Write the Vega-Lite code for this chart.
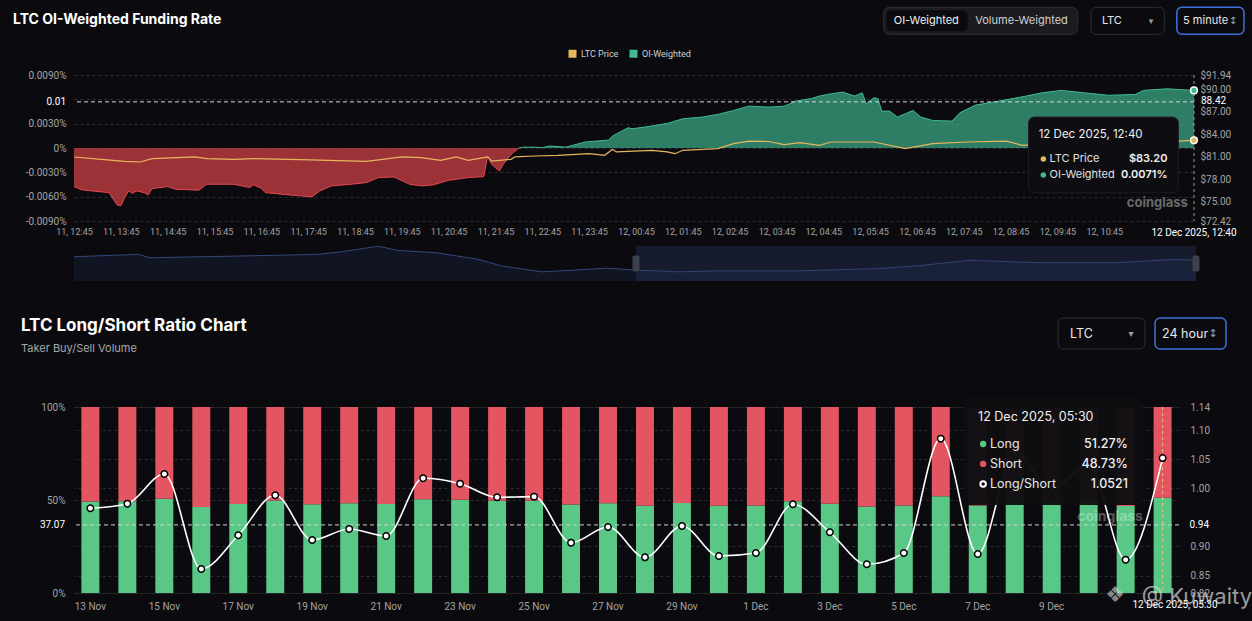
{
"$schema": "https://vega.github.io/schema/vega-lite/v6.json",
"background": "#0b0b0f",
"padding": {"left": 13, "top": 6, "right": 0, "bottom": 12},
"datasets": {
"funding": [
{"t":"2025-12-11T12:45","fr":-0.00476},{"t":"2025-12-11T12:55","fr":-0.00516},{"t":"2025-12-11T13:20","fr":-0.00541},{"t":"2025-12-11T13:30","fr":-0.0055},{"t":"2025-12-11T13:35","fr":-0.00627},{"t":"2025-12-11T13:40","fr":-0.0070},{"t":"2025-12-11T13:45","fr":-0.00713},{"t":"2025-12-11T13:50","fr":-0.0061},{"t":"2025-12-11T13:55","fr":-0.00529},{"t":"2025-12-11T14:00","fr":-0.0056},{"t":"2025-12-11T14:05","fr":-0.0053},{"t":"2025-12-11T14:15","fr":-0.0055},{"t":"2025-12-11T14:20","fr":-0.00578},{"t":"2025-12-11T14:25","fr":-0.005},{"t":"2025-12-11T14:45","fr":-0.00476},{"t":"2025-12-11T14:55","fr":-0.00508},{"t":"2025-12-11T15:25","fr":-0.0052},{"t":"2025-12-11T15:35","fr":-0.00447},{"t":"2025-12-11T16:10","fr":-0.00447},{"t":"2025-12-11T16:30","fr":-0.00488},{"t":"2025-12-11T16:35","fr":-0.00455},{"t":"2025-12-11T16:45","fr":-0.00495},{"t":"2025-12-11T16:50","fr":-0.0055},{"t":"2025-12-11T17:20","fr":-0.00578},{"t":"2025-12-11T17:35","fr":-0.0059},{"t":"2025-12-11T17:50","fr":-0.00602},{"t":"2025-12-11T18:00","fr":-0.00529},{"t":"2025-12-11T18:15","fr":-0.00467},{"t":"2025-12-11T18:40","fr":-0.00447},{"t":"2025-12-11T19:00","fr":-0.00426},{"t":"2025-12-11T19:15","fr":-0.00365},{"t":"2025-12-11T19:35","fr":-0.00357},{"t":"2025-12-11T19:55","fr":-0.00447},{"t":"2025-12-11T20:10","fr":-0.00467},{"t":"2025-12-11T20:25","fr":-0.00455},{"t":"2025-12-11T20:45","fr":-0.00398},{"t":"2025-12-11T21:10","fr":-0.00365},{"t":"2025-12-11T21:30","fr":-0.00353},{"t":"2025-12-11T21:35","fr":-0.0010},{"t":"2025-12-11T21:40","fr":-0.002},{"t":"2025-12-11T21:50","fr":-0.00283},{"t":"2025-12-11T21:55","fr":-0.002},{"t":"2025-12-11T22:05","fr":-0.00078},{"t":"2025-12-11T22:15","fr":0},{"t":"2025-12-11T22:20","fr":0.0001},{"t":"2025-12-11T22:35","fr":0.0001},{"t":"2025-12-11T22:45","fr":0.00003},{"t":"2025-12-11T22:55","fr":0.00025},{"t":"2025-12-11T23:15","fr":0.0001},{"t":"2025-12-11T23:40","fr":0.00074},{"t":"2025-12-12T00:10","fr":0.00098},{"t":"2025-12-12T00:15","fr":0.00148},{"t":"2025-12-12T00:35","fr":0.0025},{"t":"2025-12-12T00:40","fr":0.00237},{"t":"2025-12-12T01:05","fr":0.0027},{"t":"2025-12-12T01:25","fr":0.00303},{"t":"2025-12-12T01:45","fr":0.0036},{"t":"2025-12-12T02:10","fr":0.00381},{"t":"2025-12-12T02:30","fr":0.00414},{"t":"2025-12-12T02:50","fr":0.00463},{"t":"2025-12-12T03:10","fr":0.00516},{"t":"2025-12-12T03:35","fr":0.00504},{"t":"2025-12-12T03:55","fr":0.00516},{"t":"2025-12-12T04:10","fr":0.00578},{"t":"2025-12-12T04:30","fr":0.0061},{"t":"2025-12-12T04:40","fr":0.0064},{"t":"2025-12-12T04:50","fr":0.0066},{"t":"2025-12-12T05:10","fr":0.00689},{"t":"2025-12-12T05:25","fr":0.0064},{"t":"2025-12-12T05:35","fr":0.0068},{"t":"2025-12-12T05:40","fr":0.00545},{"t":"2025-12-12T05:50","fr":0.0062},{"t":"2025-12-12T05:55","fr":0.0061},{"t":"2025-12-12T06:00","fr":0.00455},{"t":"2025-12-12T06:10","fr":0.00455},{"t":"2025-12-12T06:20","fr":0.00381},{"t":"2025-12-12T06:30","fr":0.00422},{"t":"2025-12-12T06:40","fr":0.00463},{"t":"2025-12-12T06:50","fr":0.00381},{"t":"2025-12-12T07:05","fr":0.0034},{"t":"2025-12-12T07:30","fr":0.00332},{"t":"2025-12-12T07:40","fr":0.00434},{"t":"2025-12-12T08:00","fr":0.00529},{"t":"2025-12-12T08:30","fr":0.00578},{"t":"2025-12-12T09:05","fr":0.0064},{"t":"2025-12-12T09:25","fr":0.0068},{"t":"2025-12-12T09:50","fr":0.0071},{"t":"2025-12-12T10:20","fr":0.0068},{"t":"2025-12-12T10:50","fr":0.0065},{"t":"2025-12-12T11:25","fr":0.0066},{"t":"2025-12-12T11:35","fr":0.0071},{"t":"2025-12-12T12:05","fr":0.0073},{"t":"2025-12-12T12:40","fr":0.0071}
],
"price": [
{"t":"2025-12-11T12:45","p":80.98},{"t":"2025-12-11T13:20","p":80.67},{"t":"2025-12-11T13:50","p":80.4},{"t":"2025-12-11T14:10","p":80.31},{"t":"2025-12-11T14:25","p":80.75},{"t":"2025-12-11T15:20","p":81.0},{"t":"2025-12-11T15:35","p":80.75},{"t":"2025-12-11T16:10","p":80.67},{"t":"2025-12-11T16:35","p":80.75},{"t":"2025-12-11T17:35","p":80.62},{"t":"2025-12-11T19:00","p":80.4},{"t":"2025-12-11T19:45","p":81.0},{"t":"2025-12-11T20:10","p":80.9},{"t":"2025-12-11T20:35","p":80.54},{"t":"2025-12-11T20:55","p":81.0},{"t":"2025-12-11T21:10","p":80.54},{"t":"2025-12-11T21:35","p":81.0},{"t":"2025-12-11T21:40","p":80.44},{"t":"2025-12-11T22:05","p":80.67},{"t":"2025-12-11T22:10","p":81.0},{"t":"2025-12-11T22:35","p":81.11},{"t":"2025-12-11T23:05","p":81.2},{"t":"2025-12-11T23:45","p":81.42},{"t":"2025-12-12T00:05","p":81.2},{"t":"2025-12-12T00:15","p":82.01},{"t":"2025-12-12T00:20","p":81.65},{"t":"2025-12-12T01:05","p":81.87},{"t":"2025-12-12T01:25","p":81.65},{"t":"2025-12-12T01:35","p":81.42},{"t":"2025-12-12T01:45","p":81.87},{"t":"2025-12-12T02:10","p":82.0},{"t":"2025-12-12T02:30","p":82.09},{"t":"2025-12-12T02:50","p":82.76},{"t":"2025-12-12T03:10","p":83.1},{"t":"2025-12-12T03:35","p":83.05},{"t":"2025-12-12T03:55","p":82.62},{"t":"2025-12-12T04:15","p":82.89},{"t":"2025-12-12T04:40","p":82.54},{"t":"2025-12-12T04:55","p":82.98},{"t":"2025-12-12T05:50","p":82.98},{"t":"2025-12-12T06:30","p":82.09},{"t":"2025-12-12T07:05","p":82.76},{"t":"2025-12-12T07:50","p":82.98},{"t":"2025-12-12T08:40","p":83.1},{"t":"2025-12-12T09:00","p":82.54},{"t":"2025-12-12T09:50","p":82.8},{"t":"2025-12-12T11:05","p":82.9},{"t":"2025-12-12T12:20","p":83.1},{"t":"2025-12-12T12:40","p":83.2}
],
"nav": [
{"t":"2025-12-10T12:45","p":83.72},{"t":"2025-12-10T15:30","p":84.2},{"t":"2025-12-10T16:00","p":83.52},{"t":"2025-12-10T19:45","p":83.86},{"t":"2025-12-10T23:10","p":84.2},{"t":"2025-12-11T00:10","p":84.72},{"t":"2025-12-11T01:45","p":85.86},{"t":"2025-12-11T02:35","p":85.0},{"t":"2025-12-11T04:15","p":84.52},{"t":"2025-12-11T06:00","p":83.2},{"t":"2025-12-11T07:00","p":81.86},{"t":"2025-12-11T08:45","p":80.66},{"t":"2025-12-11T10:05","p":81.0},{"t":"2025-12-11T11:30","p":81.4},{"t":"2025-12-11T12:50","p":81.0},{"t":"2025-12-11T14:35","p":80.66},{"t":"2025-12-11T16:15","p":80.86},{"t":"2025-12-11T19:40","p":80.86},{"t":"2025-12-11T23:05","p":81.32},{"t":"2025-12-12T00:45","p":81.86},{"t":"2025-12-12T03:00","p":83.0},{"t":"2025-12-12T05:55","p":82.52},{"t":"2025-12-12T09:20","p":82.52},{"t":"2025-12-12T11:45","p":83.2},{"t":"2025-12-12T12:40","p":83.0}
],
"ls": [
{"d":"13 Nov","long":49.13,"ratio":0.9658},{"d":"14 Nov","long":49.33,"ratio":0.9737},{"d":"15 Nov","long":50.61,"ratio":1.0248},{"d":"16 Nov","long":46.27,"ratio":0.8613},{"d":"17 Nov","long":47.90,"ratio":0.9193},{"d":"18 Nov","long":49.70,"ratio":0.9882},{"d":"19 Nov","long":47.68,"ratio":0.9112},{"d":"20 Nov","long":48.19,"ratio":0.9302},{"d":"21 Nov","long":47.86,"ratio":0.9181},{"d":"22 Nov","long":50.43,"ratio":1.0174},{"d":"23 Nov","long":50.20,"ratio":1.0081},{"d":"24 Nov","long":49.61,"ratio":0.9847},{"d":"25 Nov","long":49.64,"ratio":0.9858},{"d":"26 Nov","long":47.55,"ratio":0.9066},{"d":"27 Nov","long":48.28,"ratio":0.9336},{"d":"28 Nov","long":46.85,"ratio":0.8814},{"d":"29 Nov","long":48.33,"ratio":0.9353},{"d":"30 Nov","long":46.91,"ratio":0.8837},{"d":"1 Dec","long":47.05,"ratio":0.8888},{"d":"2 Dec","long":49.31,"ratio":0.9727},{"d":"3 Dec","long":48.04,"ratio":0.9245},{"d":"4 Dec","long":46.51,"ratio":0.8694},{"d":"5 Dec","long":47.05,"ratio":0.8888},{"d":"6 Dec","long":52.05,"ratio":1.0856},{"d":"7 Dec","long":47.01,"ratio":0.8871},{"d":"8 Dec","long":51.46,"ratio":1.06},{"d":"9 Dec","long":50.0,"ratio":1.0},{"d":"10 Dec","long":50.98,"ratio":1.04},{"d":"11 Dec","long":46.73,"ratio":0.8773},{"d":"12 Dec","long":51.27,"ratio":1.0521}
]
},
"spacing": 36,
"vconcat": [
{
"spacing": 6,
"vconcat": [
{
"width": 1120,
"height": 146,
"title": {"text": "LTC OI-Weighted Funding Rate", "anchor": "start", "frame": "group", "dx": -61, "fontSize": 14, "fontWeight": "bold", "color": "#ffffff", "font": "Inter", "offset": -20},
"resolve": {"scale": {"y": "independent"}},
"layer": [
{"layer": [
{"data": {"name": "funding"}, "transform": [{"filter": "datum.fr <= 0"}],
 "mark": {"type": "area", "color": "#e7474e", "fillOpacity": 0.66, "line": {"color": "#e7474e", "strokeWidth": 1}},
 "encoding": {
  "x": {"field": "t", "type": "temporal", "title": null,
   "scale": {"domain": [{"year":2025,"month":12,"date":11,"hours":12,"minutes":45},{"year":2025,"month":12,"date":12,"hours":12,"minutes":40}]},
   "axis": {"format": "%d, %H:%M", "labelFontSize": 9, "labelColor": "#a3a3a3", "labelPadding": 6, "labelFlush": false, "labelOverlap": false, "grid": false, "tickCount": 50,
    "values": [
     {"year":2025,"month":12,"date":11,"hours":12,"minutes":45},{"year":2025,"month":12,"date":11,"hours":13,"minutes":45},{"year":2025,"month":12,"date":11,"hours":14,"minutes":45},{"year":2025,"month":12,"date":11,"hours":15,"minutes":45},{"year":2025,"month":12,"date":11,"hours":16,"minutes":45},{"year":2025,"month":12,"date":11,"hours":17,"minutes":45},{"year":2025,"month":12,"date":11,"hours":18,"minutes":45},{"year":2025,"month":12,"date":11,"hours":19,"minutes":45},{"year":2025,"month":12,"date":11,"hours":20,"minutes":45},{"year":2025,"month":12,"date":11,"hours":21,"minutes":45},{"year":2025,"month":12,"date":11,"hours":22,"minutes":45},{"year":2025,"month":12,"date":11,"hours":23,"minutes":45},
     {"year":2025,"month":12,"date":12,"hours":0,"minutes":45},{"year":2025,"month":12,"date":12,"hours":1,"minutes":45},{"year":2025,"month":12,"date":12,"hours":2,"minutes":45},{"year":2025,"month":12,"date":12,"hours":3,"minutes":45},{"year":2025,"month":12,"date":12,"hours":4,"minutes":45},{"year":2025,"month":12,"date":12,"hours":5,"minutes":45},{"year":2025,"month":12,"date":12,"hours":6,"minutes":45},{"year":2025,"month":12,"date":12,"hours":7,"minutes":45},{"year":2025,"month":12,"date":12,"hours":8,"minutes":45},{"year":2025,"month":12,"date":12,"hours":9,"minutes":45},{"year":2025,"month":12,"date":12,"hours":10,"minutes":45}
    ]}},
  "y": {"field": "fr", "type": "quantitative", "title": null,
   "scale": {"domain": [-0.009, 0.009], "nice": false, "zero": false},
   "axis": {"values": [-0.009,-0.006,-0.003,0,0.003,0.006,0.009], "tickCount": 50, "labelExpr": "datum.value == 0 ? '0%' : (abs(datum.value - 0.006) < 0.0001 ? '' : replace(format(datum.value, '.4f'), '\u2212', '-') + '%')", "grid": true, "labelPadding": 8, "minExtent": 61, "maxExtent": 61, "labelFontSize": 10, "labelOverlap": false}},
  "y2": {"datum": 0}
 }},
{"data": {"name": "funding"}, "transform": [{"filter": "datum.fr >= 0"}],
 "mark": {"type": "area", "fillOpacity": 0.66, "line": {"strokeWidth": 1}},
 "encoding": {
  "x": {"field": "t", "type": "temporal", "title": null},
  "y": {"field": "fr", "type": "quantitative", "title": null},
  "y2": {"datum": 0},
  "color": {"datum": "OI-Weighted", "scale": {"domain": ["LTC Price", "OI-Weighted"], "range": ["#e6b65c", "#40ba92"]},
   "legend": {"title": null, "orient": "none", "legendX": 494, "legendY": -26, "direction": "horizontal", "symbolType": "square", "symbolSize": 64, "labelColor": "#d0d0d0", "labelFontSize": 9, "labelFont": "Roboto", "columnPadding": 10, "symbolOpacity": 1, "symbolStrokeWidth": 0, "labelOffset": 4,
    "encode": {"symbols": {"update": {"fill": {"scale": "color", "field": "value"}, "stroke": {"value": "transparent"}, "opacity": {"value": 1}}}}}}
 }},
{"data": {"values": [{}]}, "mark": {"type": "rule", "color": "#d8d8d8", "strokeDash": [4, 3], "strokeWidth": 1},
 "encoding": {"y": {"datum": 0.00569}}},
{"data": {"values": [{}]}, "mark": {"type": "rule", "color": "#9a9a9a", "strokeDash": [3, 3], "strokeWidth": 1},
 "encoding": {"x": {"datum": {"year":2025,"month":12,"date":12,"hours":12,"minutes":40}}}},
{"data": {"values": [{}]}, "mark": {"type": "point", "filled": true, "fill": "#40ba92", "stroke": "#ffffff", "strokeWidth": 1.5, "size": 45, "opacity": 1},
 "encoding": {"x": {"datum": {"year":2025,"month":12,"date":12,"hours":12,"minutes":40}}, "y": {"datum": 0.0071}}},
{"data": {"values": [{}]}, "mark": {"type": "text", "text": "0.01", "align": "right", "dx": -8, "color": "#ffffff", "fontSize": 10, "font": "Roboto"},
 "encoding": {"x": {"datum": {"year":2025,"month":12,"date":11,"hours":12,"minutes":45}}, "y": {"datum": 0.00569}}},
{"data": {"values": [{}]}, "mark": {"type": "text", "text": "12 Dec 2025, 12:40", "align": "center", "dy": 12, "color": "#ffffff", "fontSize": 10, "font": "Roboto"},
 "encoding": {"x": {"datum": {"year":2025,"month":12,"date":12,"hours":12,"minutes":40}}, "y": {"datum": -0.009}}}
]},
{"layer": [
{"data": {"name": "price"}, "mark": {"type": "line", "strokeWidth": 1.2},
 "encoding": {
  "x": {"field": "t", "type": "temporal", "title": null},
  "y": {"field": "p", "type": "quantitative", "title": null, "scale": {"domain": [72.42, 91.94], "nice": false, "zero": false},
   "axis": {"orient": "right", "values": [72.42, 75, 78, 81, 84, 87, 90, 91.94], "tickCount": 50, "format": "$.2f", "labelPadding": 6, "grid": false, "labelFontSize": 10, "labelOverlap": false}},
  "color": {"datum": "LTC Price"}
 }},
{"data": {"values": [{}]}, "mark": {"type": "point", "filled": true, "fill": "#e6b65c", "stroke": "#ffffff", "strokeWidth": 1.5, "size": 45, "opacity": 1},
 "encoding": {"x": {"datum": {"year":2025,"month":12,"date":12,"hours":12,"minutes":40}}, "y": {"datum": 83.2}}},
{"data": {"values": [{}]}, "mark": {"type": "text", "text": "88.42", "align": "left", "dx": 7, "color": "#ffffff", "fontSize": 10, "font": "Roboto"},
 "encoding": {"x": {"datum": {"year":2025,"month":12,"date":12,"hours":12,"minutes":40}}, "y": {"datum": 88.42}}}
]},
{"layer": [
{"data": {"values": [{}]}, "mark": {"type": "rect", "fill": "#0e0e12", "cornerRadius": 6, "stroke": "#1c1c22"},
 "encoding": {"x": {"datum": {"year":2025,"month":12,"date":12,"hours":9,"minutes":8}}, "x2": {"datum": {"year":2025,"month":12,"date":12,"hours":12,"minutes":20}},
  "y": {"datum": 0.00381, "scale": {"domain": [-0.009, 0.009], "nice": false, "zero": false}, "axis": null}, "y2": {"datum": -0.00553}}},
{"data": {"values": [{}]}, "mark": {"type": "text", "text": "12 Dec 2025, 12:40", "align": "left", "color": "#f0f0f0", "fontSize": 11.5, "font": "Inter"},
 "encoding": {"x": {"datum": {"year":2025,"month":12,"date":12,"hours":9,"minutes":21}}, "y": {"datum": 0.0016, "axis": null}}},
{"data": {"values": [{}]}, "mark": {"type": "point", "filled": true, "fill": "#e6b65c", "size": 30, "opacity": 1},
 "encoding": {"x": {"datum": {"year":2025,"month":12,"date":12,"hours":9,"minutes":27}}, "y": {"datum": -0.00135, "axis": null}}},
{"data": {"values": [{}]}, "mark": {"type": "point", "filled": true, "fill": "#40ba92", "size": 30, "opacity": 1},
 "encoding": {"x": {"datum": {"year":2025,"month":12,"date":12,"hours":9,"minutes":27}}, "y": {"datum": -0.00332, "axis": null}}},
{"data": {"values": [{}]}, "mark": {"type": "text", "text": "LTC Price", "align": "left", "color": "#e0e0e0", "fontSize": 11, "font": "Inter"},
 "encoding": {"x": {"datum": {"year":2025,"month":12,"date":12,"hours":9,"minutes":35}}, "y": {"datum": -0.00135, "axis": null}}},
{"data": {"values": [{}]}, "mark": {"type": "text", "text": "OI-Weighted", "align": "left", "color": "#e0e0e0", "fontSize": 11, "font": "Inter"},
 "encoding": {"x": {"datum": {"year":2025,"month":12,"date":12,"hours":9,"minutes":35}}, "y": {"datum": -0.00332, "axis": null}}},
{"data": {"values": [{}]}, "mark": {"type": "text", "text": "$83.20", "align": "right", "color": "#f0f0f0", "fontSize": 11, "fontWeight": 600, "font": "Inter"},
 "encoding": {"x": {"datum": {"year":2025,"month":12,"date":12,"hours":12,"minutes":6}}, "y": {"datum": -0.00135, "axis": null}}},
{"data": {"values": [{}]}, "mark": {"type": "text", "text": "0.0071%", "align": "right", "color": "#f0f0f0", "fontSize": 11, "fontWeight": 600, "font": "Inter"},
 "encoding": {"x": {"datum": {"year":2025,"month":12,"date":12,"hours":12,"minutes":6}}, "y": {"datum": -0.00332, "axis": null}}},
{"data": {"values": [{}]}, "mark": {"type": "text", "text": "coinglass", "align": "center", "color": "#6a6a6a", "fontSize": 13, "fontWeight": "bold", "font": "Inter"},
 "encoding": {"x": {"datum": {"year":2025,"month":12,"date":12,"hours":11,"minutes":53}}, "y": {"datum": -0.00676, "axis": null}}},
{"data": {"values": [{}]}, "mark": {"type": "rect", "fill": "#1c1c20", "stroke": "#2e2e33", "cornerRadius": 6},
 "encoding": {"x": {"datum": {"year":2025,"month":12,"date":12,"hours":6,"minutes":2}}, "x2": {"datum": {"year":2025,"month":12,"date":12,"hours":10,"minutes":11}}, "y": {"datum": 0.01734, "axis": null}, "y2": {"datum": 0.01402}}},
{"data": {"values": [{}]}, "mark": {"type": "rect", "fill": "#0b0b0f", "cornerRadius": 5},
 "encoding": {"x": {"datum": {"year":2025,"month":12,"date":12,"hours":6,"minutes":6}}, "x2": {"datum": {"year":2025,"month":12,"date":12,"hours":7,"minutes":50}}, "y": {"datum": 0.01697, "axis": null}, "y2": {"datum": 0.01439}}},
{"data": {"values": [{}]}, "mark": {"type": "text", "text": "OI-Weighted", "align": "center", "color": "#f0f0f0", "fontSize": 11, "font": "Inter"},
 "encoding": {"x": {"datum": {"year":2025,"month":12,"date":12,"hours":6,"minutes":57}}, "y": {"datum": 0.01568, "axis": null}}},
{"data": {"values": [{}]}, "mark": {"type": "text", "text": "Volume-Weighted", "align": "center", "color": "#d0d0d0", "fontSize": 11, "font": "Inter"},
 "encoding": {"x": {"datum": {"year":2025,"month":12,"date":12,"hours":8,"minutes":59}}, "y": {"datum": 0.01568, "axis": null}}},
{"data": {"values": [{}]}, "mark": {"type": "rect", "fill": "#0b0b0f", "stroke": "#2e2e33", "cornerRadius": 5},
 "encoding": {"x": {"datum": {"year":2025,"month":12,"date":12,"hours":10,"minutes":28}}, "x2": {"datum": {"year":2025,"month":12,"date":12,"hours":12,"minutes":2}}, "y": {"datum": 0.01734, "axis": null}, "y2": {"datum": 0.01402}}},
{"data": {"values": [{}]}, "mark": {"type": "text", "text": "LTC", "align": "left", "color": "#e8e8e8", "fontSize": 11, "font": "Inter"},
 "encoding": {"x": {"datum": {"year":2025,"month":12,"date":12,"hours":10,"minutes":42}}, "y": {"datum": 0.01568, "axis": null}}},
{"data": {"values": [{}]}, "mark": {"type": "text", "text": "\u25BE", "align": "center", "color": "#a0a0a0", "fontSize": 9, "font": "DejaVu Sans"},
 "encoding": {"x": {"datum": {"year":2025,"month":12,"date":12,"hours":11,"minutes":45}}, "y": {"datum": 0.01568, "axis": null}}},
{"data": {"values": [{}]}, "mark": {"type": "rect", "fill": "#0b0b0f", "stroke": "#3d72dc", "strokeWidth": 1.5, "cornerRadius": 5},
 "encoding": {"x": {"datum": {"year":2025,"month":12,"date":12,"hours":12,"minutes":18}}, "x2": {"datum": {"year":2025,"month":12,"date":12,"hours":13,"minutes":44}}, "y": {"datum": 0.01734, "axis": null}, "y2": {"datum": 0.01402}}},
{"data": {"values": [{}]}, "mark": {"type": "text", "text": "5 minute", "align": "left", "color": "#e8e8e8", "fontSize": 11, "font": "Inter"},
 "encoding": {"x": {"datum": {"year":2025,"month":12,"date":12,"hours":12,"minutes":26}}, "y": {"datum": 0.01568, "axis": null}}},
{"data": {"values": [{}]}, "mark": {"type": "text", "text": "\u2195", "align": "center", "color": "#a0a0a0", "fontSize": 10, "font": "DejaVu Sans"},
 "encoding": {"x": {"datum": {"year":2025,"month":12,"date":12,"hours":13,"minutes":30}}, "y": {"datum": 0.01568, "axis": null}}}
]}
]
},
{
"width": 1122,
"height": 35,
"layer": [
{"data": {"name": "nav"}, "mark": {"type": "area", "color": "#141a2c", "line": {"color": "#35467a", "strokeWidth": 1}},
 "encoding": {
  "x": {"field": "t", "type": "temporal", "title": null, "axis": null, "scale": {"domain": [{"year":2025,"month":12,"date":10,"hours":12,"minutes":45},{"year":2025,"month":12,"date":12,"hours":12,"minutes":40}]}},
  "y": {"field": "p", "type": "quantitative", "title": null, "axis": null, "scale": {"domain": [78.8, 85.9], "nice": false, "zero": false}},
  "y2": {"datum": 78.8}
 }},
{"data": {"values": [{}]}, "mark": {"type": "rect", "color": "#2a3a6a", "opacity": 0.35},
 "encoding": {"x": {"datum": {"year":2025,"month":12,"date":11,"hours":12,"minutes":45}}, "x2": {"datum": {"year":2025,"month":12,"date":12,"hours":12,"minutes":40}}}},
{"data": {"values": [{}]}, "mark": {"type": "tick", "orient": "vertical", "color": "#3d414c", "thickness": 7, "size": 16, "cornerRadius": 2, "opacity": 1},
 "encoding": {"x": {"datum": {"year":2025,"month":12,"date":11,"hours":12,"minutes":45}}, "y": {"datum": 82.35}}},
{"data": {"values": [{}]}, "mark": {"type": "tick", "orient": "vertical", "color": "#3d414c", "thickness": 7, "size": 16, "cornerRadius": 2, "opacity": 1},
 "encoding": {"x": {"datum": {"year":2025,"month":12,"date":12,"hours":12,"minutes":40}}, "y": {"datum": 82.35}}}
]
}
]
},
{
"width": 1105,
"height": 186,
"title": {"text": "LTC Long/Short Ratio Chart", "subtitle": "Taker Buy/Sell Volume", "anchor": "start", "frame": "group", "dx": -53, "fontSize": 17, "fontWeight": "bold", "color": "#ffffff", "font": "Inter", "subtitleColor": "#a8a8a8", "subtitleFontSize": 11, "subtitleFont": "Inter", "subtitlePadding": 8, "offset": -38},
"resolve": {"scale": {"y": "independent"}},
"layer": [
{"layer": [
{"data": {"name": "ls"}, "mark": {"type": "bar", "color": "#59c887"},
 "encoding": {
  "x": {"field": "d", "type": "nominal", "title": null, "sort": null,
   "scale": {"domain": ["13 Nov","14 Nov","15 Nov","16 Nov","17 Nov","18 Nov","19 Nov","20 Nov","21 Nov","22 Nov","23 Nov","24 Nov","25 Nov","26 Nov","27 Nov","28 Nov","29 Nov","30 Nov","1 Dec","2 Dec","3 Dec","4 Dec","5 Dec","6 Dec","7 Dec","8 Dec","9 Dec","10 Dec","11 Dec","12 Dec"], "paddingInner": 0.514, "paddingOuter": 0.2},
   "axis": {"values": ["13 Nov","15 Nov","17 Nov","19 Nov","21 Nov","23 Nov","25 Nov","27 Nov","29 Nov","1 Dec","3 Dec","5 Dec","7 Dec","9 Dec"], "labelAngle": 0, "labelPadding": 8, "labelFontSize": 10, "grid": false}},
  "y": {"field": "long", "type": "quantitative", "title": null, "scale": {"domain": [0, 100], "nice": false},
   "axis": {"values": [0, 50, 100], "tickCount": 50, "labelExpr": "datum.value + '%'", "grid": true, "labelPadding": 9, "minExtent": 61, "maxExtent": 61, "labelFontSize": 10, "labelOverlap": false}}
 }},
{"data": {"name": "ls"}, "mark": {"type": "bar", "color": "#e35561"},
 "encoding": {"x": {"field": "d", "type": "nominal", "title": null, "sort": null}, "y": {"field": "long", "type": "quantitative", "title": null}, "y2": {"datum": 100}}},
{"data": {"values": [{}]}, "mark": {"type": "rule", "color": "#d0d0d0", "strokeDash": [4, 3], "strokeWidth": 1},
 "encoding": {"y": {"datum": 36.6}}},
{"data": {"values": [{}]}, "mark": {"type": "rule", "color": "#f0c27a", "strokeDash": [3, 3], "strokeWidth": 1},
 "encoding": {"x": {"datum": "12 Dec", "bandPosition": 0.5}}},
{"data": {"values": [{}]}, "mark": {"type": "text", "text": "37.07", "align": "right", "color": "#ffffff", "fontSize": 10, "font": "Roboto"},
 "encoding": {"x": {"datum": "13 Nov", "bandPosition": -0.91}, "y": {"datum": 36.6}}}
]},
{"layer": [
{"data": {"name": "ls"}, "mark": {"type": "line", "interpolate": "monotone", "color": "#ffffff", "strokeWidth": 1.6},
 "encoding": {
  "x": {"field": "d", "type": "nominal", "title": null, "sort": null},
  "y": {"field": "ratio", "type": "quantitative", "title": null, "scale": {"domain": [0.82, 1.14], "nice": false, "zero": false},
   "axis": {"orient": "right", "values": [0.82, 0.85, 0.9, 1.0, 1.05, 1.1, 1.14], "tickCount": 50, "format": ".2f", "grid": true, "labelPadding": 11, "labelFontSize": 10, "labelOverlap": false}}
 }},
{"data": {"name": "ls"}, "mark": {"type": "circle", "fill": "#ffffff", "stroke": "#000000", "strokeWidth": 1.5, "size": 42, "opacity": 1},
 "encoding": {"x": {"field": "d", "type": "nominal", "title": null, "sort": null}, "y": {"field": "ratio", "type": "quantitative", "title": null}}},
{"data": {"values": [{}]}, "mark": {"type": "text", "text": "0.94", "align": "left", "color": "#ffffff", "fontSize": 10, "font": "Roboto"},
 "encoding": {"x": {"datum": "12 Dec", "bandPosition": 2.0}, "y": {"datum": 0.937}}}
]},
{"layer": [
{"data": {"values": [{}]}, "mark": {"type": "rect", "fill": "#0e0e12", "cornerRadius": 6, "opacity": 0.97},
 "encoding": {"x": {"datum": "7 Dec", "bandPosition": -0.32}, "x2": {"datum": "11 Dec", "bandPosition": 1.47},
  "y": {"datum": 105.4, "scale": {"domain": [0, 100], "nice": false}, "axis": null}, "y2": {"datum": 47.3}}},
{"data": {"values": [{}]}, "mark": {"type": "text", "text": "12 Dec 2025, 05:30", "align": "left", "color": "#f0f0f0", "fontSize": 12.5, "font": "Inter"},
 "encoding": {"x": {"datum": "7 Dec", "bandPosition": 0.52}, "y": {"datum": 94.6, "axis": null}}},
{"data": {"values": [{}]}, "mark": {"type": "point", "filled": true, "fill": "#59c887", "size": 40, "opacity": 1},
 "encoding": {"x": {"datum": "7 Dec", "bandPosition": 0.8}, "y": {"datum": 80.1, "axis": null}}},
{"data": {"values": [{}]}, "mark": {"type": "point", "filled": true, "fill": "#e35561", "size": 40, "opacity": 1},
 "encoding": {"x": {"datum": "7 Dec", "bandPosition": 0.8}, "y": {"datum": 69.4, "axis": null}}},
{"data": {"values": [{}]}, "mark": {"type": "point", "filled": false, "stroke": "#ffffff", "strokeWidth": 2, "size": 30, "opacity": 1},
 "encoding": {"x": {"datum": "7 Dec", "bandPosition": 0.8}, "y": {"datum": 58.6, "axis": null}}},
{"data": {"values": [{}]}, "mark": {"type": "text", "text": "Long", "align": "left", "color": "#e8e8e8", "fontSize": 12.5, "font": "Inter"},
 "encoding": {"x": {"datum": "7 Dec", "bandPosition": 1.18}, "y": {"datum": 80.1, "axis": null}}},
{"data": {"values": [{}]}, "mark": {"type": "text", "text": "Short", "align": "left", "color": "#e8e8e8", "fontSize": 12.5, "font": "Inter"},
 "encoding": {"x": {"datum": "7 Dec", "bandPosition": 1.18}, "y": {"datum": 69.4, "axis": null}}},
{"data": {"values": [{}]}, "mark": {"type": "text", "text": "Long/Short", "align": "left", "color": "#e8e8e8", "fontSize": 12.5, "font": "Inter"},
 "encoding": {"x": {"datum": "7 Dec", "bandPosition": 1.18}, "y": {"datum": 58.6, "axis": null}}},
{"data": {"values": [{}]}, "mark": {"type": "text", "text": "51.27%", "align": "right", "color": "#f0f0f0", "fontSize": 12.5, "fontWeight": 500, "font": "Inter"},
 "encoding": {"x": {"datum": "11 Dec", "bandPosition": 0.63}, "y": {"datum": 80.1, "axis": null}}},
{"data": {"values": [{}]}, "mark": {"type": "text", "text": "48.73%", "align": "right", "color": "#f0f0f0", "fontSize": 12.5, "fontWeight": 500, "font": "Inter"},
 "encoding": {"x": {"datum": "11 Dec", "bandPosition": 0.63}, "y": {"datum": 69.4, "axis": null}}},
{"data": {"values": [{}]}, "mark": {"type": "text", "text": "1.0521", "align": "right", "color": "#f0f0f0", "fontSize": 12.5, "fontWeight": 500, "font": "Inter"},
 "encoding": {"x": {"datum": "11 Dec", "bandPosition": 0.63}, "y": {"datum": 58.6, "axis": null}}},
{"data": {"values": [{}]}, "mark": {"type": "text", "text": "12 Dec 2025, 05:30", "align": "center", "dy": 12, "color": "#ffffff", "fontSize": 10, "font": "Roboto"},
 "encoding": {"x": {"datum": "12 Dec", "bandPosition": 1.19}, "y": {"datum": 0, "axis": null}}},
{"data": {"values": [{}]}, "mark": {"type": "text", "text": "coinglass", "align": "center", "color": "#ffffff", "opacity": 0.3, "fontSize": 14, "fontWeight": "bold", "font": "Inter"},
 "encoding": {"x": {"datum": "10 Dec", "bandPosition": 1.69}, "y": {"datum": 40.9, "axis": null}}},
{"data": {"values": [{}]}, "mark": {"type": "text", "text": "\u2756", "align": "center", "color": "#d8d8d8", "opacity": 0.6, "fontSize": 22, "font": "DejaVu Sans"},
 "encoding": {"x": {"datum": "11 Dec", "bandPosition": -0.09}, "y": {"datum": -1, "axis": null}}},
{"data": {"values": [{}]}, "mark": {"type": "text", "text": "@ Kuwaity", "align": "center", "color": "#d8d8d8", "opacity": 0.7, "fontSize": 22, "font": "Inter"},
 "encoding": {"x": {"datum": "12 Dec", "bandPosition": 2.41}, "y": {"datum": -2.2, "axis": null}}},
{"data": {"values": [{}]}, "mark": {"type": "rect", "fill": "#0b0b0f", "stroke": "#2e2e33", "cornerRadius": 5},
 "encoding": {"x": {"datum": "12 Dec", "bandPosition": -5.32}, "x2": {"datum": "12 Dec", "bandPosition": -0.48}, "y": {"datum": 147.8, "axis": null}, "y2": {"datum": 131.2}}},
{"data": {"values": [{}]}, "mark": {"type": "text", "text": "LTC", "align": "left", "color": "#e8e8e8", "fontSize": 12.5, "font": "Inter"},
 "encoding": {"x": {"datum": "12 Dec", "bandPosition": -4.65}, "y": {"datum": 139.5, "axis": null}}},
{"data": {"values": [{}]}, "mark": {"type": "text", "text": "\u25BE", "align": "center", "color": "#a0a0a0", "fontSize": 10, "font": "DejaVu Sans"},
 "encoding": {"x": {"datum": "12 Dec", "bandPosition": -1.26}, "y": {"datum": 139.5, "axis": null}}},
{"data": {"values": [{}]}, "mark": {"type": "rect", "fill": "#0b0b0f", "stroke": "#3d72dc", "strokeWidth": 1.5, "cornerRadius": 5},
 "encoding": {"x": {"datum": "12 Dec", "bandPosition": 0.08}, "x2": {"datum": "12 Dec", "bandPosition": 4.03}, "y": {"datum": 147.8, "axis": null}, "y2": {"datum": 131.2}}},
{"data": {"values": [{}]}, "mark": {"type": "text", "text": "24 hour", "align": "left", "color": "#e8e8e8", "fontSize": 12.5, "font": "Inter"},
 "encoding": {"x": {"datum": "12 Dec", "bandPosition": 0.47}, "y": {"datum": 139.5, "axis": null}}},
{"data": {"values": [{}]}, "mark": {"type": "text", "text": "\u2195", "align": "center", "color": "#a0a0a0", "fontSize": 11, "font": "DejaVu Sans"},
 "encoding": {"x": {"datum": "12 Dec", "bandPosition": 3.31}, "y": {"datum": 139.5, "axis": null}}}
]}
]
}
],
"config": {
 "view": {"stroke": null},
 "font": "Inter",
 "axis": {"labelFont": "Roboto", "labelColor": "#a3a3a3", "domain": false, "ticks": false, "gridColor": "#2b2b30", "gridDash": [3, 3], "gridWidth": 1, "labelOverlap": false}
}
}
